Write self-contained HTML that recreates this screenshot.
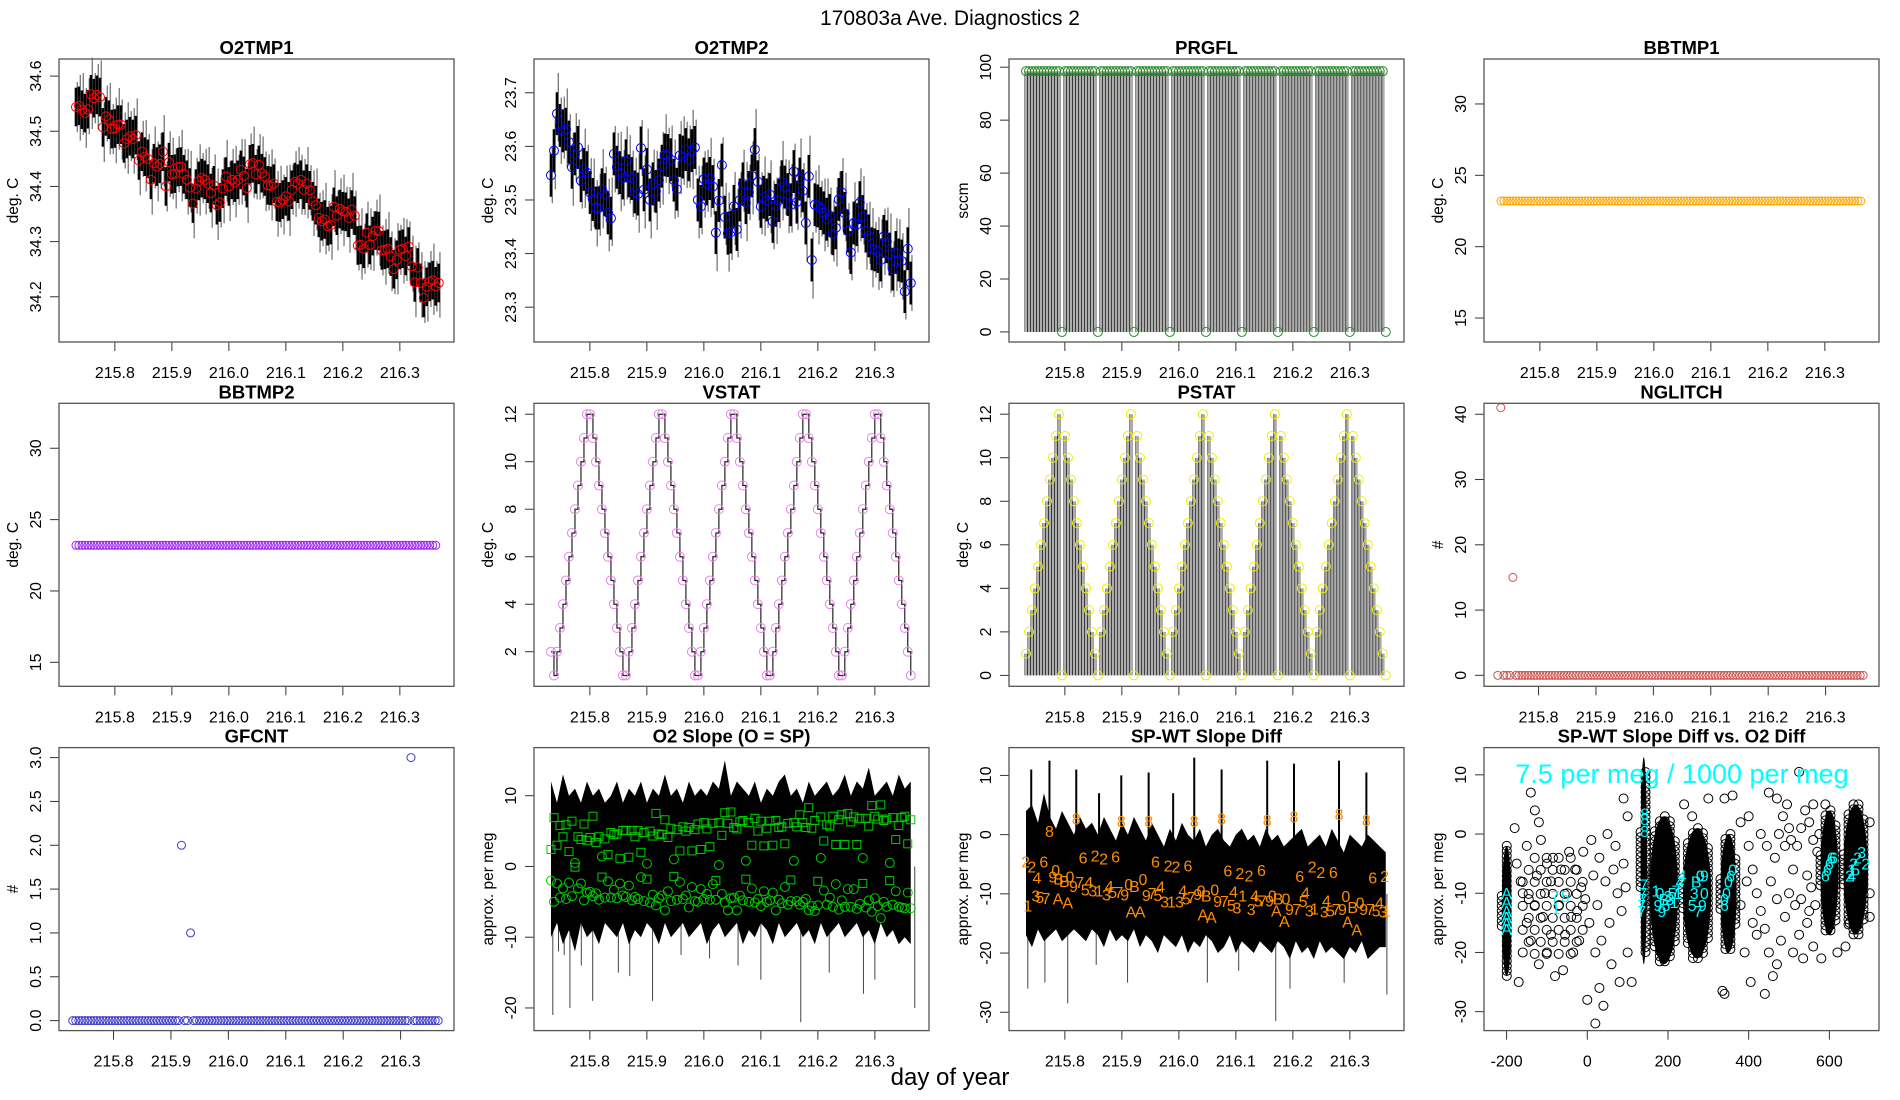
<!DOCTYPE html>
<html><head><meta charset="utf-8"><title>170803a Ave. Diagnostics 2</title>
<style>
html,body{margin:0;padding:0;background:#fff;}
svg{display:block;font-family:"Liberation Sans",Arial,sans-serif;}
</style></head>
<body>
<svg id="chart" width="1900" height="1100" viewBox="0 0 1900 1100" xmlns="http://www.w3.org/2000/svg">
<rect width="1900" height="1100" fill="#fff"/>
<text x="950" y="25" text-anchor="middle" font-size="21">170803a   Ave. Diagnostics 2</text>
<text x="950" y="1085" text-anchor="middle" font-size="24">day of year</text>
</svg>
<script>
// ---------- data ----------
const t0 = 215.7318, dt = 0.00526;      // sample times for main panels
const t0b = 215.729;                    // sample start for NGLITCH / GFCNT
const timeTicks = [215.8, 215.9, 216.0, 216.1, 216.2, 216.3];
const timeTickLabels = ["215.8","215.9","216.0","216.1","216.2","216.3"];

const o2tmp1 = [34.544,34.546,34.539,34.533,34.540,34.567,34.560,34.566,34.562,34.507,34.527,34.521,34.504,34.505,34.512,34.512,34.478,34.486,34.491,34.486,34.493,34.447,34.463,34.454,34.450,34.412,34.442,34.436,34.441,34.463,34.400,34.444,34.422,34.423,34.435,34.436,34.422,34.412,34.398,34.369,34.396,34.410,34.415,34.412,34.405,34.388,34.402,34.366,34.371,34.396,34.418,34.400,34.412,34.407,34.412,34.430,34.419,34.397,34.440,34.442,34.422,34.439,34.424,34.418,34.402,34.401,34.405,34.372,34.371,34.376,34.382,34.373,34.394,34.408,34.405,34.412,34.394,34.405,34.393,34.373,34.366,34.343,34.337,34.340,34.328,34.330,34.363,34.347,34.359,34.355,34.354,34.343,34.358,34.347,34.293,34.294,34.287,34.316,34.294,34.310,34.320,34.319,34.284,34.285,34.287,34.273,34.250,34.267,34.285,34.287,34.274,34.291,34.255,34.226,34.253,34.225,34.198,34.218,34.227,34.230,34.219,34.225];
const o2tmp1Spread = [0.035];
const o2tmp1Ticks = [34.2,34.3,34.4,34.5,34.6];

const o2tmp2 = [23.546,23.592,23.661,23.639,23.629,23.632,23.608,23.561,23.586,23.598,23.536,23.557,23.551,23.514,23.501,23.485,23.485,23.519,23.510,23.476,23.466,23.586,23.561,23.551,23.541,23.573,23.545,23.540,23.515,23.511,23.597,23.519,23.557,23.500,23.530,23.516,23.537,23.563,23.584,23.583,23.575,23.537,23.520,23.583,23.580,23.594,23.575,23.592,23.598,23.500,23.488,23.539,23.530,23.540,23.525,23.439,23.499,23.565,23.468,23.438,23.440,23.488,23.445,23.500,23.530,23.495,23.514,23.545,23.594,23.534,23.488,23.505,23.500,23.510,23.460,23.490,23.499,23.534,23.524,23.510,23.491,23.553,23.496,23.539,23.517,23.457,23.544,23.388,23.491,23.489,23.484,23.476,23.464,23.471,23.437,23.448,23.501,23.514,23.475,23.442,23.402,23.457,23.454,23.495,23.469,23.442,23.433,23.409,23.407,23.404,23.388,23.432,23.422,23.399,23.371,23.402,23.388,23.386,23.329,23.409,23.345];
const o2tmp2Spread = [0.04];
const o2tmp2Ticks = [23.3,23.4,23.5,23.6,23.7];

const prgfl = [98.5,98.5,98.5,98.5,98.5,98.5,98.5,98.5,98.5,98.5,98.5,98.5,0,98.5,98.5,98.5,98.5,98.5,98.5,98.5,98.5,98.5,98.5,98.5,0,98.5,98.5,98.5,98.5,98.5,98.5,98.5,98.5,98.5,98.5,98.5,0,98.5,98.5,98.5,98.5,98.5,98.5,98.5,98.5,98.5,98.5,98.5,0,98.5,98.5,98.5,98.5,98.5,98.5,98.5,98.5,98.5,98.5,98.5,0,98.5,98.5,98.5,98.5,98.5,98.5,98.5,98.5,98.5,98.5,98.5,0,98.5,98.5,98.5,98.5,98.5,98.5,98.5,98.5,98.5,98.5,98.5,0,98.5,98.5,98.5,98.5,98.5,98.5,98.5,98.5,98.5,98.5,98.5,0,98.5,98.5,98.5,98.5,98.5,98.5,98.5,98.5,98.5,98.5,98.5,0,98.5,98.5,98.5,98.5,98.5,98.5,98.5,98.5,98.5,98.5,98.5,0];
const prgflTicks = [0,20,40,60,80,100];

const bbtmp1 = [23.2,23.2,23.2,23.2,23.2,23.2,23.2,23.2,23.2,23.2,23.2,23.2,23.2,23.2,23.2,23.2,23.2,23.2,23.2,23.2,23.2,23.2,23.2,23.2,23.2,23.2,23.2,23.2,23.2,23.2,23.2,23.2,23.2,23.2,23.2,23.2,23.2,23.2,23.2,23.2,23.2,23.2,23.2,23.2,23.2,23.2,23.2,23.2,23.2,23.2,23.2,23.2,23.2,23.2,23.2,23.2,23.2,23.2,23.2,23.2,23.2,23.2,23.2,23.2,23.2,23.2,23.2,23.2,23.2,23.2,23.2,23.2,23.2,23.2,23.2,23.2,23.2,23.2,23.2,23.2,23.2,23.2,23.2,23.2,23.2,23.2,23.2,23.2,23.2,23.2,23.2,23.2,23.2,23.2,23.2,23.2,23.2,23.2,23.2,23.2,23.2,23.2,23.2,23.2,23.2,23.2,23.2,23.2,23.2,23.2,23.2,23.2,23.2,23.2,23.2,23.2,23.2,23.2,23.2,23.2,23.2];
const bbtmp2 = [23.2,23.2,23.2,23.2,23.2,23.2,23.2,23.2,23.2,23.2,23.2,23.2,23.2,23.2,23.2,23.2,23.2,23.2,23.2,23.2,23.2,23.2,23.2,23.2,23.2,23.2,23.2,23.2,23.2,23.2,23.2,23.2,23.2,23.2,23.2,23.2,23.2,23.2,23.2,23.2,23.2,23.2,23.2,23.2,23.2,23.2,23.2,23.2,23.2,23.2,23.2,23.2,23.2,23.2,23.2,23.2,23.2,23.2,23.2,23.2,23.2,23.2,23.2,23.2,23.2,23.2,23.2,23.2,23.2,23.2,23.2,23.2,23.2,23.2,23.2,23.2,23.2,23.2,23.2,23.2,23.2,23.2,23.2,23.2,23.2,23.2,23.2,23.2,23.2,23.2,23.2,23.2,23.2,23.2,23.2,23.2,23.2,23.2,23.2,23.2,23.2,23.2,23.2,23.2,23.2,23.2,23.2,23.2,23.2,23.2,23.2,23.2,23.2,23.2,23.2,23.2,23.2,23.2,23.2,23.2,23.2];
const bbTicks = [15,20,25,30];

const vstat = [2,1,2,3,4,5,6,7,8,9,10,11,12,12,11,10,9,8,7,6,5,4,3,2,1,1,
 2,3,4,5,6,7,8,9,10,11,12,12,11,10,9,8,7,6,5,4,3,2,1,1,
 2,3,4,5,6,7,8,9,10,11,12,12,11,10,9,8,7,6,5,4,3,2,1,1,
 2,3,4,5,6,7,8,9,10,11,12,12,11,10,9,8,7,6,5,4,3,2,1,1,
 2,3,4,5,6,7,8,9,10,11,12,12,11,10,9,8,7,6,5,4,3,2,1];
const vstatTicks = [2,4,6,8,10,12];

const pstat = [1,2,3,4,5,6,7,8,9,10,11,12,0,11,10,9,8,7,6,5,4,3,2,1,
 0,2,3,4,5,6,7,8,9,10,11,12,0,11,10,9,8,7,6,5,4,3,2,1,
 0,2,3,4,5,6,7,8,9,10,11,12,0,11,10,9,8,7,6,5,4,3,2,1,
 0,2,3,4,5,6,7,8,9,10,11,12,0,11,10,9,8,7,6,5,4,3,2,1,
 0,2,3,4,5,6,7,8,9,10,11,12,0,11,10,9,8,7,6,5,4,3,2,1,0];
const pstatTicks = [0,2,4,6,8,10,12];

const nglitch = [0,41,0,0,0,15,0,0,0,0,0,0,0,0,0,0,0,0,0,0,0,0,0,0,0,0,0,0,0,0,0,0,0,0,0,0,0,0,0,0,0,0,0,0,0,0,0,0,0,0,0,0,0,0,0,0,0,0,0,0,0,0,0,0,0,0,0,0,0,0,0,0,0,0,0,0,0,0,0,0,0,0,0,0,0,0,0,0,0,0,0,0,0,0,0,0,0,0,0,0,0,0,0,0,0,0,0,0,0,0,0,0,0,0,0,0,0,0,0,0,0,0];
const nglitchTicks = [0,10,20,30,40];

const gfcnt = [0,0,0,0,0,0,0,0,0,0,0,0,0,0,0,0,0,0,0,0,0,0,0,0,0,0,0,0,0,0,0,0,0,0,0,0,2,0,0,1,0,0,0,0,0,0,0,0,0,0,0,0,0,0,0,0,0,0,0,0,0,0,0,0,0,0,0,0,0,0,0,0,0,0,0,0,0,0,0,0,0,0,0,0,0,0,0,0,0,0,0,0,0,0,0,0,0,0,0,0,0,0,0,0,0,0,0,0,0,0,0,0,3,0,0,0,0,0,0,0,0,0];
const gfcntTicks = [0,0.5,1,1.5,2,2.5,3];
const gfcntTickLabels = ["0.0","0.5","1.0","1.5","2.0","2.5","3.0"];

const slopeSq = [2.4,6.9,3.0,5.8,4.2,5.9,2.1,6.4,-0.1,4.2,3.8,6.0,3.7,4.1,7.1,3.4,4.2,-1.5,3.9,1.7,4.8,4.5,4.6,1.1,5.1,5.1,1.3,5.1,4.2,5.1,2.0,4.8,-1.8,5.0,4.3,7.5,4.6,4.5,6.6,4.1,5.4,-1.4,5.2,2.2,5.6,5.0,5.5,2.2,5.2,6.0,2.4,6.2,5.3,2.8,6.1,-2.0,6.2,4.4,7.6,6.1,7.7,5.5,5.3,6.3,6.5,-1.8,6.2,3.0,6.8,5.0,6.4,2.9,5.4,6.4,3.0,6.5,5.5,5.6,3.2,6.1,-1.9,6.2,5.6,7.3,6.2,5.5,8.3,5.4,6.5,-2.1,7.0,3.6,5.9,5.7,7.1,3.1,6.6,7.3,3.1,7.5,6.3,7.0,3.1,6.8,-2.4,6.8,5.7,8.6,7.1,6.7,8.7,6.5,6.7,-2.0,6.9,3.8,5.8,6.9,7.1,3.2,6.6];
const slopeCirc = [-2.0,-5.0,-2.4,-4.4,-3.1,-4.6,-2.3,-4.2,0.5,-3.1,-2.4,-4.8,-3.7,-3.6,-4.2,-3.8,-4.7,1.4,-4.4,-2.1,-4.4,-3.3,-4.5,-2.4,-4.1,-4.3,-2.7,-4.8,-4.3,-4.6,-1.5,-4.9,0.4,-5.1,-4.0,-5.5,-4.5,-4.1,-6.2,-3.5,-4.9,1.0,-4.7,-2.2,-4.6,-4.1,-5.8,-2.9,-4.9,-5.0,-3.2,-4.6,-3.9,-4.7,-2.5,-4.7,0.2,-3.9,-5.1,-6.2,-4.5,-4.4,-6.2,-4.1,-4.8,0.8,-5.0,-3.1,-5.1,-4.6,-5.6,-3.5,-5.0,-4.8,-3.7,-6.2,-4.7,-5.2,-2.9,-5.4,-4.9,0.8,-4.9,-5.4,-5.0,-4.6,-6.2,-5.6,-6.3,-5.5,1.2,-3.4,-5.4,-4.4,-5.7,-2.5,-6.1,-4.8,-5.7,-3.2,-5.7,-3.2,-6.0,-5.3,1.2,-5.8,-4.8,-6.4,-4.5,-5.6,-7.3,-5.0,-5.7,0.5,-5.4,-3.5,-5.7,-5.8,-5.9,-3.7,-5.9];
const slopeBandHi = [12,9,13,10,11,9,12,10,11,9,10,12,9,11,10,12,9,11,10,13,10,11,9,12,10,11,10,12,11,15,10,12,11,10,12,9,11,10,12,13,10,11,9,12,10,11,12,10,11,13,10,12,11,14,10,11,12,10,13,11,12];
const slopeBandLo = [-10,-8,-11,-9,-12,-8,-10,-9,-11,-8,-9,-10,-8,-11,-9,-10,-8,-9,-11,-8,-10,-9,-8,-10,-9,-8,-11,-9,-8,-10,-9,-8,-11,-9,-10,-8,-9,-11,-8,-10,-9,-8,-10,-9,-11,-8,-10,-9,-8,-10,-9,-8,-10,-9,-11,-8,-10,-9,-11,-10,-11];
const slopeSpikeT = [215.735,215.745,215.755,215.765,215.785,215.805,215.85,215.87,215.91,215.96,216.01,216.06,216.10,216.17,216.22,216.28,216.30,216.37];
const slopeSpikeV = [-21,-12,-12.5,-20,-14,-19,-15,-15.5,-19,-12.5,-13,-14,-16,-22,-15,-18,-16,-20];
const slopeTicks = [-20,-10,0,10];

const spwtLabT = [215.731,215.742,215.751,215.763,215.735,215.749,215.756,215.767,215.773,215.784,215.779,215.789,215.799,215.809,215.788,215.805,215.815,215.820,215.826,215.832,215.836,215.842,215.849,215.860,215.853,215.868,215.878,215.873,215.884,215.895,215.889,215.899,215.905,215.912,215.922,215.937,215.916,215.932,215.943,215.947,215.953,215.959,215.963,215.968,215.975,215.981,215.987,215.995,216.001,216.007,216.016,216.013,216.022,216.027,216.033,216.039,216.048,216.063,216.042,216.057,216.068,216.075,216.080,216.086,216.092,216.096,216.102,216.112,216.107,216.123,216.127,216.133,216.139,216.145,216.147,216.155,216.159,216.164,216.174,216.188,216.171,216.185,216.194,216.202,216.207,216.212,216.218,216.222,216.229,216.238,216.234,216.249,216.255,216.259,216.266,216.271,216.276,216.281,216.287,216.293,216.305,216.318,216.296,216.312,216.324,216.329,216.336,216.340,216.346,216.352,216.358,216.364,216.361];
const spwtLabV = [-4.5,-5.4,-7.2,-4.5,-12.0,-10.3,-10.5,-10.7,0.6,-6.0,-7.1,-7.4,-7.8,-7.1,-10.8,-11.5,-8.7,2.7,-8.0,-3.9,-9.3,-8.0,-9.4,-9.4,-3.5,-4.0,-8.7,-10.1,-9.7,-9.7,-3.7,2.3,-10.1,-8.3,-8.7,-7.5,-13.0,-13.0,-10.2,2.3,-9.9,-4.5,-10.2,-8.8,-11.3,-5.2,-11.3,-5.4,-11.3,-9.4,-5.2,-10.8,-10.5,2.3,-10.0,-9.4,-10.3,-9.3,-13.5,-13.9,-11.2,2.7,-11.2,-6.1,-11.9,-9.6,-12.3,-10.3,-6.5,-6.9,-12.6,-10.3,-11.1,-6.0,-11.1,2.5,-11.1,-10.3,-10.8,-10.8,-12.8,-14.6,-12.6,3.1,-12.6,-7.0,-11.2,-9.8,-12.8,-12.5,-5.4,-6.3,-13.0,-11.1,-12.8,-6.3,-12.6,3.5,-12.6,-10.4,-12.2,-11.5,-14.7,-16.0,-12.6,2.5,-12.6,-7.2,-12.8,-11.5,-13.0,-12.8,-7.0];
const spwtLabC = ["2","2","4","6","1","3","5","7","8","0","9","B","B","0","A","A","9","8","7","6","5","4","3","1","2","2","4","3","5","7","6","8","9","0","B","0","A","A","9","8","7","6","5","4","3","2","1","2","3","4","6","5","7","8","9","0","B","0","A","A","9","8","7","6","5","4","3","1","2","2","3","4","5","6","7","8","9","0","B","0","A","A","9","8","7","6","5","4","3","1","2","2","3","4","5","6","7","8","9","0","B","0","A","A","9","8","7","6","5","4","3","1","2"];
const spwtBandHi = [4,5,2,7,3,1,4,2,0,3,1,2,0,3,1,-1,2,0,3,1,-1,2,0,-2,1,-1,2,0,-1,1,-2,0,1,-1,-2,0,1,-1,0,-2,1,-1,0,-2,-1,0,1,-2,-1,0,-2,1,-1,-3,0,-1,-2,0,-1,-2,-3];
const spwtBandLo = [-17,-19,-16,-18,-17,-16,-18,-17,-16,-17,-18,-16,-17,-19,-16,-18,-17,-18,-16,-19,-17,-18,-20,-17,-18,-19,-17,-20,-18,-19,-17,-18,-20,-19,-17,-20,-18,-19,-20,-18,-19,-20,-18,-19,-21,-18,-20,-19,-21,-18,-20,-19,-20,-21,-19,-20,-18,-21,-20,-19,-19];
const spwtUpT = [215.741,215.773,215.820,215.860,215.899,215.947,215.990,216.027,216.075,216.155,216.202,216.281,216.329];
const spwtUpV = [11,12.5,11,7,10,10.5,7,13,11,12.5,12,12.5,10.5];
const spwtDnT = [215.735,215.765,215.805,215.855,215.910,216.050,216.105,216.170,216.195,216.290,216.365];
const spwtDnV = [-26,-25,-28.5,-22,-25,-25,-23,-31.5,-26,-25,-27];
const spwtTicks = [-30,-20,-10,0,10];

const blobX = [-200,140,190,272,350,600,665];
const blobHW = [12,8,35,35,20,22,30];
const blobTop = [-2,13,3,1,0,4,5];
const blobBot = [-24,-22,-22,-21,-20,-17,-17];
const hazeX = [-85];
const hazeY = [-12];
const hazeRX = [90];
const hazeRY = [10];
const hazeSpacing = [12];
const cloudX = [-175,-160,-150,-140,-130,-120,-115,-100,-90,-160,-140,-120,-100,-80,-60,-40,-20,0,20,40,60,-150,-130,-110,-90,-70,-50,-30,-10,10,30,50,70,90,-170,-55,-35,-15,5,25,45,65,85,100,110,-180,-165,-145,-125,-105,-85,-65,-45,-25,-5,15,35,55,75,95,30,80,100,90,20,240,260,300,340,360,380,400,410,420,430,440,450,460,470,480,490,500,510,520,530,540,550,560,570,390,405,420,440,455,465,475,485,495,505,515,525,535,545,555,565,450,470,500,525,545,560,580,590,400,430,380,395,410,445,470,490,510,530,550,340,335,620,640,650,700,700,700,560,575];
const cloudY = [-5,-10,-15,7,4,2,-1,-5,-8,-20,-18,-22,-20,-24,-23,-14,-18,-28,-32,-29,-22,-2,-12,-14,-17,-12,-10,-6,-3,-1,-4,0,-2,-5,-25,-17,-20,-9,-15,-12,-8,-6,-13,-20,-25,1,-8,-11,-7,-10,-4,-6,-3,-13,-11,-7,-18,-15,-10,-9,-26,-25,3,6,-20,5,3,6,6,6.5,2,-2,-6,-10,-13,-16,-20,-24,-22,-18,-14,-10,-6,-2,1,4,2,-1,-3,-20,-25,-17,-27,-8,-4,0,3,5,-1,-12,-17,-21,-15,-9,-12,7,6,1,10.5,-7,-19,-21,5,3,0,-12,-8,-15,-2,-11,-2,-20,-11,-13,-27,-26.5,-20,-19,-15,2,-10,-14,5,0];
const cyanLabX = [-200,-200,-200,-200,-200,-200,-80,-55,-78,140,138,138,135,135,142,142,142,170,180,190,200,210,220,230,175,185,195,205,215,225,235,260,265,270,280,290,285,275,290,340,345,350,355,360,340,590,595,600,605,610,650,655,660,670,680,690,655,665];
const cyanLabY = [-10,-11.5,-13,-14,-15,-16,-10.5,-10.5,-12.5,-8.5,-10,-11,-12,-13,0.5,2.5,3.5,-9.5,-10,-11,-10.5,-10,-9.5,-8,-12,-13,-12,-11,-11.5,-10,-7,-12,-10,-8,-7,-7,-12,-13,-10,-11,-10,-8,-7,-6,-12,-7,-6,-5,-4,-4,-7,-6,-5,-4,-3,-5,-7,-6];
const cyanLabC = ["A","A","A","A","A","A","7","5","1","7","7","7","7","7","8","8","8","1","0","B","3","5","7","4","9","9","5","3","1","1","4","5","3","B","0","9","9","7","0","0","0","0","6","0","6","6","6","6","6","6","2","1","2","2","3","2","4","5"];
const scatXTicks = [-200,0,200,400,600];
const scatYTicks = [-30,-20,-10,0,10];

// ---------- helpers ----------
const svg = document.getElementById('chart');
const NS = 'http://www.w3.org/2000/svg';
function el(tag, attrs, parent) {
  const e = document.createElementNS(NS, tag);
  for (const k in attrs) e.setAttribute(k, attrs[k]);
  (parent || svg).appendChild(e);
  return e;
}
function panel(col, row, xlo, xhi, ylo, yhi) {
  const L = col * 475 + 59, T = 59 + row * 344.3, W = 395, H = 283;
  return {L, T, W, H,
    x: v => L + (v - xlo) / (xhi - xlo) * W,
    y: v => T + H - (v - ylo) / (yhi - ylo) * H};
}
function frame(p, name, title, ylab, xt, xtl, yt, ytl) {
  const g = el('g', {});
  
  
  const tt = el('text', {x: p.L + p.W / 2, y: p.T - 5, 'text-anchor': 'middle', 'font-size': 18.5, 'font-weight': 'bold'}, g);
  tt.textContent = title;
  
  
  const yl = el('text', {x: 0, y: 0, 'text-anchor': 'middle', 'font-size': 15.5, transform: `translate(${p.L - 41},${p.T + p.H / 2}) rotate(-90)`}, g);
  yl.textContent = ylab;
  
  
  xt.forEach((v, i) => {
    const X = p.x(v);
    el('line', {x1: X, x2: X, y1: p.T + p.H, y2: p.T + p.H + 9, stroke: '#333', 'stroke-width': 1}, g);
    const t = el('text', {x: X, y: p.T + p.H + 36, 'text-anchor': 'middle', 'font-size': 16}, g);
    t.textContent = xtl[i];
    
    
  });
  yt.forEach((v, i) => {
    const Y = p.y(v);
    el('line', {x1: p.L - 9, x2: p.L, y1: Y, y2: Y, stroke: '#333', 'stroke-width': 1}, g);
    const t = el('text', {x: 0, y: 0, 'text-anchor': 'middle', 'font-size': 16, transform: `translate(${p.L - 18},${Y}) rotate(-90)`}, g);
    t.textContent = ytl[i];
    
    
  });
  return g;
}
function border(p, name) {
  const r = el('rect', {x: p.L, y: p.T, width: p.W, height: p.H, fill: 'none', stroke: '#555', 'stroke-width': 1.3});
  
  
}
function circ(g, X, Y, color, r) {
  el('circle', {cx: X, cy: Y, r: r || 4.5, fill: 'none', stroke: color, 'stroke-width': 1}, g);
}
const T = i => t0 + i * dt;
const Tb = i => t0b + i * dt;
const fmt = a => a.map(String);

// ---------- O2TMP1 ----------
(function () {
  const p = panel(0, 0, 215.702, 216.395, 34.118, 34.631);
  const g = frame(p, 'o2tmp1', 'O2TMP1', 'deg. C', timeTicks, timeTickLabels, o2tmp1Ticks, fmt(o2tmp1Ticks));
  const s = o2tmp1Spread[0];
  o2tmp1.forEach((v, i) => {
    const X = p.x(T(i));
    el('line', {x1: X + 1.2, x2: X + 1.2, y1: p.y(v + s * (1.3 + (i % 3) * 0.3)), y2: p.y(v - s * (1.3 + (i % 2) * 0.5)), stroke: '#222', 'stroke-width': 0.8}, g);
    el('line', {x1: X, x2: X, y1: p.y(v + s), y2: p.y(v - s), stroke: '#000', 'stroke-width': 2.6}, g);
  });
  o2tmp1.forEach((v, i) => circ(g, p.x(T(i)), p.y(v), '#ff0000'));
  border(p, 'o2tmp1');
})();

// ---------- O2TMP2 ----------
(function () {
  const p = panel(1, 0, 215.702, 216.395, 23.235, 23.763);
  const g = frame(p, 'o2tmp2', 'O2TMP2', 'deg. C', timeTicks, timeTickLabels, o2tmp2Ticks, fmt(o2tmp2Ticks));
  const s = o2tmp2Spread[0];
  o2tmp2.forEach((v, i) => {
    const X = p.x(T(i));
    el('line', {x1: X + 1.2, x2: X + 1.2, y1: p.y(v + s * (1.3 + (i % 3) * 0.3)), y2: p.y(v - s * (1.3 + (i % 2) * 0.5)), stroke: '#222', 'stroke-width': 0.8}, g);
    el('line', {x1: X, x2: X, y1: p.y(v + s), y2: p.y(v - s), stroke: '#000', 'stroke-width': 2.6}, g);
  });
  o2tmp2.forEach((v, i) => circ(g, p.x(T(i)), p.y(v), '#0000ff'));
  border(p, 'o2tmp2');
})();

// ---------- PRGFL ----------
(function () {
  const p = panel(2, 0, 215.702, 216.395, -3.8, 103.1);
  const g = frame(p, 'prgfl', 'PRGFL', 'sccm', timeTicks, timeTickLabels, prgflTicks, fmt(prgflTicks));
  prgfl.forEach((v, i) => {
    if (v <= 0) return;
    const X = p.x(T(i));
    [-1.2, 0, 1.2].forEach(o => el('line', {x1: X + o, x2: X + o, y1: p.y(0), y2: p.y(v), stroke: '#333', 'stroke-width': 0.6}, g));
  });
  prgfl.forEach((v, i) => circ(g, p.x(T(i)), p.y(v), '#2e8b2e'));
  border(p, 'prgfl');
})();

// ---------- BBTMP1 ----------
(function () {
  const p = panel(3, 0, 215.702, 216.395, 13.32, 33.15);
  const g = frame(p, 'bbtmp1', 'BBTMP1', 'deg. C', timeTicks, timeTickLabels, bbTicks, fmt(bbTicks));
  bbtmp1.forEach((v, i) => circ(g, p.x(T(i)), p.y(v), '#ffa500', 4));
  border(p, 'bbtmp1');
})();

// ---------- BBTMP2 ----------
(function () {
  const p = panel(0, 1, 215.702, 216.395, 13.32, 33.15);
  const g = frame(p, 'bbtmp2', 'BBTMP2', 'deg. C', timeTicks, timeTickLabels, bbTicks, fmt(bbTicks));
  bbtmp2.forEach((v, i) => circ(g, p.x(T(i)), p.y(v), '#a020f0', 4));
  border(p, 'bbtmp2');
})();

// ---------- VSTAT ----------
(function () {
  const p = panel(1, 1, 215.702, 216.395, 0.544, 12.46);
  const g = frame(p, 'vstat', 'VSTAT', 'deg. C', timeTicks, timeTickLabels, vstatTicks, fmt(vstatTicks));
  let d = `M${p.x(T(0))},${p.y(vstat[0])}`;
  for (let i = 1; i < vstat.length; i++) d += ` H${p.x(T(i))} V${p.y(vstat[i])}`;
  const path = el('path', {d, fill: 'none', stroke: '#222', 'stroke-width': 1.2}, g);
  
  
  vstat.forEach((v, i) => circ(g, p.x(T(i)), p.y(v), '#ee82ee'));
  border(p, 'vstat');
})();

// ---------- PSTAT ----------
(function () {
  const p = panel(2, 1, 215.702, 216.395, -0.5, 12.5);
  const g = frame(p, 'pstat', 'PSTAT', 'deg. C', timeTicks, timeTickLabels, pstatTicks, fmt(pstatTicks));
  pstat.forEach((v, i) => {
    const X = p.x(T(i));
    [-1.2, 0, 1.2].forEach(o => el('line', {x1: X + o, x2: X + o, y1: p.y(0), y2: p.y(v), stroke: '#333', 'stroke-width': 0.6}, g));
  });
  pstat.forEach((v, i) => circ(g, p.x(T(i)), p.y(v), '#eeee00'));
  border(p, 'pstat');
})();

// ---------- NGLITCH ----------
(function () {
  const p = panel(3, 1, 215.705, 216.393, -1.68, 41.68);
  const g = frame(p, 'nglitch', 'NGLITCH', '#', timeTicks, timeTickLabels, nglitchTicks, fmt(nglitchTicks));
  nglitch.forEach((v, i) => circ(g, p.x(Tb(i)), p.y(v), '#cd5555', 4));
  border(p, 'nglitch');
})();

// ---------- GFCNT ----------
(function () {
  const p = panel(0, 2, 215.705, 216.393, -0.114, 3.114);
  const g = frame(p, 'gfcnt', 'GFCNT', '#', timeTicks, timeTickLabels, gfcntTicks, gfcntTickLabels);
  gfcnt.forEach((v, i) => circ(g, p.x(Tb(i)), p.y(v), '#3a3ac8', 4));
  border(p, 'gfcnt');
})();

// ---------- O2 Slope ----------
(function () {
  const p = panel(1, 2, 215.702, 216.395, -23.2, 16.8);
  const g = frame(p, 'o2-slope', 'O2 Slope (O = SP)', 'approx. per meg', timeTicks, timeTickLabels, slopeTicks, fmt(slopeTicks));
  slopeSpikeT.forEach((t, i) => el('line', {x1: p.x(t), x2: p.x(t), y1: p.y(0), y2: p.y(slopeSpikeV[i]), stroke: '#444', 'stroke-width': 1}, g));
  let pts = [];
  slopeBandHi.forEach((v, i) => pts.push(p.x(T(i * 2)) + ',' + p.y(v)));
  for (let i = slopeBandLo.length - 1; i >= 0; i--) pts.push(p.x(T(i * 2)) + ',' + p.y(slopeBandLo[i]));
  const band = el('polygon', {points: pts.join(' '), fill: '#000'}, g);
  
  
  slopeSq.forEach((v, i) => el('rect', {x: p.x(T(i)) - 4, y: p.y(v) - 4, width: 8, height: 8, fill: 'none', stroke: '#00cd00', 'stroke-width': 1}, g));
  slopeCirc.forEach((v, i) => circ(g, p.x(T(i)), p.y(v), '#00cd00'));
  border(p, 'o2-slope');
})();

// ---------- SP-WT Slope Diff ----------
(function () {
  const p = panel(2, 2, 215.702, 216.395, -33.1, 14.7);
  const g = frame(p, 'spwt-diff', 'SP-WT Slope Diff', 'approx. per meg', timeTicks, timeTickLabels, spwtTicks, fmt(spwtTicks));
  spwtUpT.forEach((t, i) => el('line', {x1: p.x(t), x2: p.x(t), y1: p.y(-8), y2: p.y(spwtUpV[i]), stroke: '#000', 'stroke-width': 2}, g));
  spwtDnT.forEach((t, i) => el('line', {x1: p.x(t), x2: p.x(t), y1: p.y(-10), y2: p.y(spwtDnV[i]), stroke: '#444', 'stroke-width': 1}, g));
  let pts = [];
  spwtBandHi.forEach((v, i) => pts.push(p.x(T(i * 2)) + ',' + p.y(v)));
  for (let i = spwtBandLo.length - 1; i >= 0; i--) pts.push(p.x(T(i * 2)) + ',' + p.y(spwtBandLo[i]));
  const band = el('polygon', {points: pts.join(' '), fill: '#000'}, g);
  
  
  spwtLabC.forEach((c, i) => {
    const t = el('text', {x: p.x(spwtLabT[i]), y: p.y(spwtLabV[i]) + 6, 'text-anchor': 'middle', 'font-size': 16, fill: '#ff8c00'}, g);
    t.textContent = c;
  });
  border(p, 'spwt-diff');
})();

// ---------- SP-WT Slope Diff vs O2 Diff ----------
(function () {
  const p = panel(3, 2, -256, 723, -33.2, 14.6);
  const g = frame(p, 'scatter', 'SP-WT Slope Diff vs. O2 Diff', 'approx. per meg', scatXTicks, fmt(scatXTicks), scatYTicks, fmt(scatYTicks));
  hazeX.forEach((v, k) => {
    const cx = p.x(v), cy = p.y(hazeY[k]);
    const rx = p.x(v + hazeRX[k]) - cx, ry = p.y(hazeY[k] - hazeRY[k]) - cy;
    const sp = hazeSpacing[k];
    for (let yy = -ry, r = 0; yy <= ry; yy += sp, r++) {
      for (let xx = -rx + (r % 2) * sp / 2; xx <= rx; xx += sp) {
        if ((xx * xx) / (rx * rx) + (yy * yy) / (ry * ry) <= 1) circ(g, cx + xx, cy + yy, '#000');
      }
    }
  });
  cloudX.forEach((v, i) => circ(g, p.x(v), p.y(cloudY[i]), '#000'));
  blobX.forEach((v, i) => {
    const cx = p.x(v), cy = (p.y(blobTop[i]) + p.y(blobBot[i])) / 2;
    const ry = (p.y(blobBot[i]) - p.y(blobTop[i])) / 2;
    const rx = p.x(v + blobHW[i]) - cx;
    const e = el('ellipse', {cx, cy, rx, ry, fill: '#000'}, g);
    
    
    for (let yy = -ry; yy <= ry; yy += 5) {
      for (let xx = -rx; xx <= rx; xx += 5) {
        if ((xx * xx) / (rx * rx) + (yy * yy) / (ry * ry) <= 1.08) circ(g, cx + xx, cy + yy, '#000');
      }
    }
  });
  cyanLabC.forEach((c, i) => {
    const t = el('text', {x: p.x(cyanLabX[i]), y: p.y(cyanLabY[i]) + 6, 'text-anchor': 'middle', 'font-size': 16, fill: '#00ffff'}, g);
    t.textContent = c;
  });
  const note = el('text', {x: 1682, y: 783, 'text-anchor': 'middle', 'font-size': 27, fill: '#00ffff'}, g);
  note.textContent = '7.5 per meg / 1000 per meg';
  
  
  border(p, 'scatter');
})();
</script>
</body></html>
